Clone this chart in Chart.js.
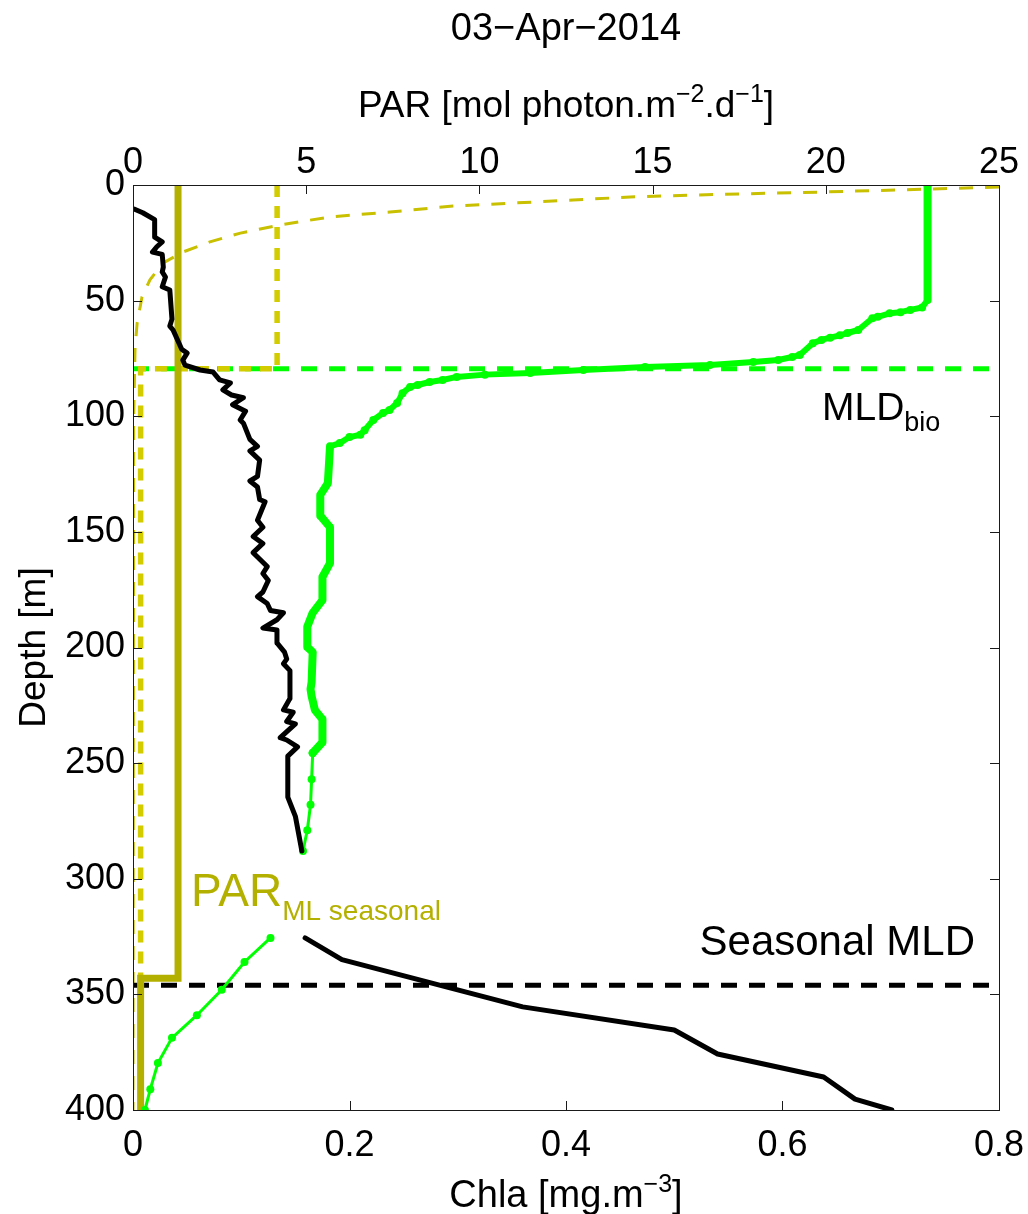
<!DOCTYPE html>
<html lang="en">
<head>
<meta charset="UTF-8">
<title>03-Apr-2014 profile</title>
<script src="https://cdn.jsdelivr.net/npm/chart.js"></script>
<style>
  html, body { margin: 0; padding: 0; background: #fff; }
</style>
</head>
<body>
<canvas id="chart" width="1028" height="1214"></canvas>
<script>
// axis ticks
var depthTicks = [0, 50, 100, 150, 200, 250, 300, 350, 400];
var chlaTicks = [0, 0.2, 0.4, 0.6, 0.8];
var parTicks = [0, 5, 10, 15, 20, 25];

// Chla profile (black), upper part and deep part
var chlaDepth = [10.4, 12, 15, 22.5, 24.6, 26.7, 29, 30, 35.5, 37.6, 39.8, 44, 45.4, 58, 61, 62.7, 71, 72.7, 75.7, 77.9,
  80, 80.9, 84.3, 85.6, 88.6, 90.8, 92, 95, 97.8, 101.6, 103, 110, 113, 115, 119, 126, 128, 130.6, 136, 137,
  145, 148, 152, 155, 159, 165, 168, 171, 176, 178, 181, 184, 185, 188, 191.6, 192.4, 198, 202, 205, 207,
  210, 222, 227, 228, 232, 233, 239, 240, 243, 247, 264.7, 273, 288];
var chla = [0.001, 0.009, 0.020, 0.020, 0.027, 0.022, 0.018, 0.027, 0.028, 0.027, 0.030, 0.027, 0.034, 0.036, 0.034, 0.037, 0.045, 0.050, 0.046, 0.048,
  0.062, 0.074, 0.080, 0.090, 0.083, 0.091, 0.102, 0.092, 0.104, 0.099, 0.102, 0.108, 0.115, 0.108, 0.117, 0.115, 0.108, 0.115, 0.117, 0.122,
  0.115, 0.120, 0.111, 0.120, 0.111, 0.124, 0.120, 0.125, 0.120, 0.115, 0.124, 0.127, 0.139, 0.133, 0.120, 0.133, 0.133, 0.140, 0.142, 0.139,
  0.145, 0.145, 0.139, 0.148, 0.142, 0.150, 0.136, 0.142, 0.152, 0.143, 0.143, 0.150, 0.156];
var chlaDeepDepth = [325.6, 335, 355.4, 365.4, 375.8, 385.7, 395.3, 400];
var chlaDeep = [0.159, 0.193, 0.360, 0.500, 0.540, 0.638, 0.667, 0.701];

// green profile
var greenDepth = [0, 49.7, 53, 54, 55, 55.5, 57, 57.6, 62.7, 64, 65, 66, 67, 68.4, 73.5, 74.4, 75.7, 76.5, 77.8, 78.7,
  80, 81.3, 82, 83, 84.3, 85.2, 86.5, 87.3, 90, 94.3, 97.3, 98.6, 101.6, 106, 108, 109, 111.6, 113, 129, 134,
  143, 148, 163.5, 169.5, 179.5, 185, 191, 199.8, 202, 215, 218, 221, 227, 231, 241, 245.6, 257, 268, 279, 288];
var green = [0.734, 0.734, 0.729, 0.718, 0.709, 0.699, 0.688, 0.683, 0.670, 0.660, 0.653, 0.644, 0.636, 0.628, 0.616, 0.609, 0.596, 0.573, 0.533, 0.473,
  0.416, 0.367, 0.325, 0.299, 0.286, 0.274, 0.263, 0.256, 0.249, 0.244, 0.237, 0.231, 0.222, 0.214, 0.210, 0.200, 0.191, 0.182, 0.180, 0.173,
  0.173, 0.182, 0.182, 0.175, 0.175, 0.166, 0.161, 0.161, 0.166, 0.165, 0.164, 0.165, 0.168, 0.175, 0.175, 0.166, 0.165, 0.164, 0.161, 0.157];
var greenDeepDepth = [325.6, 336, 348, 359, 368.8, 379.7, 391, 400];
var greenDeep = [0.127, 0.103, 0.082, 0.059, 0.036, 0.023, 0.016, 0.011];

// PAR profile (thin dashed) and the two mean PAR steps
var parDepth = [0.9, 3.0, 4.3, 5.2, 6.5, 7.8, 9.1, 11.7, 13.8, 17.3, 20.8, 24.6, 29, 33.7, 41, 48.4, 59.7, 70, 100, 400];
var par = [25.0, 20.0, 16.3, 14.35, 12.7, 11.0, 9.24, 7.42, 5.69, 4.24, 3.1, 2.22, 1.44, 0.87, 0.49, 0.26, 0.12, 0.06, 0.02, 0.0];
var parMlDepth = [0, 343, 343, 400];
var parMl = [1.30, 1.30, 0.22, 0.22];
var parBioDepth = [0, 79.5, 79.5, 400];
var parBio = [4.16, 4.16, 0.22, 0.22];

// mixed layer depths
var mldBio = 79.5;
var mldSeasonal = 346;

var FONT = '"Liberation Sans", Arial, sans-serif';
var OLIVE = '#b4b000';
var YELLOW = '#d2cc00';
var GREEN = '#00ff00';

function xy(xs, ys) {
  var out = [];
  for (var i = 0; i < xs.length; i++) out.push({ x: xs[i], y: ys[i] });
  return out;
}

function greenWidth(d) {
  if (d < 49) return 8;
  if (d < 113) return 6;
  if (d < 245) return 8;
  return 3;
}

// fixed box sizes so the plot area sits where the figure has it
function fixBox(w, h) {
  return function (s) {
    if (w !== null) s.width = w;
    if (h !== null) s.height = h;
    s.paddingLeft = 0; s.paddingRight = 0;
    s.paddingTop = 0; s.paddingBottom = 0;
  };
}

// write a label made of pieces (for sub / superscripts)
function drawParts(ctx, parts, x, y, align) {
  var w = 0;
  parts.forEach(function (p) {
    ctx.font = p.size + 'px ' + FONT;
    p.w = ctx.measureText(p.text).width;
    w += p.w;
  });
  var cx = align === 'center' ? x - w / 2 : (align === 'right' ? x - w : x);
  ctx.textAlign = 'left';
  ctx.textBaseline = 'alphabetic';
  parts.forEach(function (p) {
    ctx.font = p.size + 'px ' + FONT;
    ctx.fillText(p.text, cx, y + (p.dy || 0));
    cx += p.w;
  });
}

// box, inward ticks and the labels of the matlab figure
var frame = {
  id: 'frame',
  afterDraw: function (chart) {
    var ctx = chart.ctx;
    var a = chart.chartArea;
    var sx = chart.scales.x, sp = chart.scales.par, sy = chart.scales.y;
    var tl = 9;
    ctx.save();
    ctx.strokeStyle = '#1a1a1a';
    ctx.lineWidth = 1;
    ctx.strokeRect(a.left + 0.5, a.top + 0.5, a.right - a.left, a.bottom - a.top);
    ctx.beginPath();
    chlaTicks.forEach(function (v) {
      var px = Math.round(sx.getPixelForValue(v)) + 0.5;
      ctx.moveTo(px, a.bottom); ctx.lineTo(px, a.bottom - tl);
    });
    parTicks.forEach(function (v) {
      var px = Math.round(sp.getPixelForValue(v)) + 0.5;
      ctx.moveTo(px, a.top); ctx.lineTo(px, a.top + tl);
    });
    depthTicks.forEach(function (v) {
      var py = Math.round(sy.getPixelForValue(v)) + 0.5;
      ctx.moveTo(a.left, py); ctx.lineTo(a.left + tl, py);
      ctx.moveTo(a.right, py); ctx.lineTo(a.right - tl, py);
    });
    ctx.stroke();

    ctx.fillStyle = '#000';
    var mid = (a.left + a.right) / 2;
    drawParts(ctx, [{ text: '03\u2212Apr\u22122014', size: 38 }], mid, 40, 'center');
    drawParts(ctx, [
      { text: 'PAR [mol photon.m', size: 37 },
      { text: '\u22122', size: 25, dy: -15 },
      { text: '.d', size: 37 },
      { text: '\u22121', size: 25, dy: -15 },
      { text: ']', size: 37 }
    ], mid, 117, 'center');
    drawParts(ctx, [
      { text: 'Chla [mg.m', size: 38 },
      { text: '\u22123', size: 25, dy: -15 },
      { text: ']', size: 38 }
    ], mid, 1207, 'center');

    ctx.save();
    ctx.translate(45, (a.top + a.bottom) / 2);
    ctx.rotate(-Math.PI / 2);
    drawParts(ctx, [{ text: 'Depth [m]', size: 37 }], 0, 0, 'center');
    ctx.restore();

    drawParts(ctx, [
      { text: 'MLD', size: 39 },
      { text: 'bio', size: 27, dy: 11 }
    ], 822, 420, 'left');
    drawParts(ctx, [{ text: 'Seasonal MLD', size: 42 }], 975, 955, 'right');

    ctx.fillStyle = OLIVE;
    drawParts(ctx, [
      { text: 'PAR', size: 46 },
      { text: 'ML seasonal', size: 28, dy: 14 }
    ], 191, 906, 'left');
    ctx.restore();
  }
};

var tickFont = { family: FONT, size: 36 };

new Chart(document.getElementById('chart'), {
  type: 'scatter',
  data: {
    datasets: [
      {
        label: 'Chla', data: xy(chla, chlaDepth), xAxisID: 'x', showLine: true, order: 1,
        borderColor: '#000', borderWidth: 5, pointRadius: 0, borderJoinStyle: 'round', borderCapStyle: 'round'
      },
      {
        label: 'Chla deep', data: xy(chlaDeep, chlaDeepDepth), xAxisID: 'x', showLine: true, order: 1,
        borderColor: '#000', borderWidth: 5, pointRadius: 0, borderJoinStyle: 'round', borderCapStyle: 'round'
      },
      {
        label: 'Green profile', data: xy(green, greenDepth), xAxisID: 'x', showLine: true, order: 2,
        borderColor: GREEN, backgroundColor: GREEN, borderJoinStyle: 'round', borderCapStyle: 'round',
        borderWidth: 8,
        segment: { borderWidth: function (c) { return greenWidth(c.p0.parsed.y); } },
        pointRadius: function (c) {
          var d = greenDepth[c.dataIndex];
          if (d === 0) return 4;
          return (d > 50 && d < 113) || d > 245 ? 4 : 0;
        },
        pointBorderWidth: 0
      },
      {
        label: 'Green deep', data: xy(greenDeep, greenDeepDepth), xAxisID: 'x', showLine: true, order: 2,
        borderColor: GREEN, backgroundColor: GREEN, borderWidth: 3, pointRadius: 4, pointBorderWidth: 0
      },
      {
        label: 'PAR ML seasonal', data: xy(parMl, parMlDepth), xAxisID: 'par', showLine: true, order: 3,
        borderColor: OLIVE, borderWidth: 7, pointRadius: 0, borderJoinStyle: 'miter'
      },
      {
        label: 'PAR ML bio', data: xy(parBio, parBioDepth), xAxisID: 'par', showLine: true, order: 4,
        borderColor: YELLOW, borderWidth: 5.5, borderDash: [12, 9], pointRadius: 0
      },
      {
        label: 'MLD bio', data: [{ x: 0, y: mldBio }, { x: 0.8, y: mldBio }], xAxisID: 'x', showLine: true, order: 5,
        borderColor: GREEN, borderWidth: 5, borderDash: [16, 12], pointRadius: 0
      },
      {
        label: 'Seasonal MLD', data: [{ x: 0, y: mldSeasonal }, { x: 0.8, y: mldSeasonal }], xAxisID: 'x', showLine: true, order: 5,
        borderColor: '#000', borderWidth: 5, borderDash: [16, 12], pointRadius: 0
      },
      {
        label: 'PAR', data: xy(par, parDepth), xAxisID: 'par', showLine: true, order: 6,
        borderColor: '#c8c000', borderWidth: 3, borderDash: [14, 12], pointRadius: 0
      }
    ]
  },
  options: {
    responsive: false,
    animation: false,
    layout: { autoPadding: false, padding: { left: 0, right: 29, top: 0, bottom: 0 } },
    plugins: { legend: { display: false }, tooltip: { enabled: false }, title: { display: false } },
    scales: {
      x: {
        type: 'linear', position: 'bottom', min: 0, max: 0.8,
        grid: { display: false, drawTicks: false }, border: { display: false },
        ticks: { stepSize: 0.2, font: tickFont, color: '#000', padding: 14, maxRotation: 0 },
        afterFit: fixBox(null, 104)
      },
      par: {
        type: 'linear', position: 'top', min: 0, max: 25,
        grid: { display: false, drawTicks: false }, border: { display: false },
        ticks: { stepSize: 5, font: tickFont, color: '#000', padding: 0, maxRotation: 0 },
        afterFit: fixBox(null, 185)
      },
      y: {
        type: 'linear', position: 'left', min: 0, max: 400, reverse: true,
        grid: { display: false, drawTicks: false }, border: { display: false },
        ticks: { stepSize: 50, font: tickFont, color: '#000', padding: 8 },
        afterFit: fixBox(133, null)
      }
    }
  },
  plugins: [frame]
});
</script>
</body>
</html>
